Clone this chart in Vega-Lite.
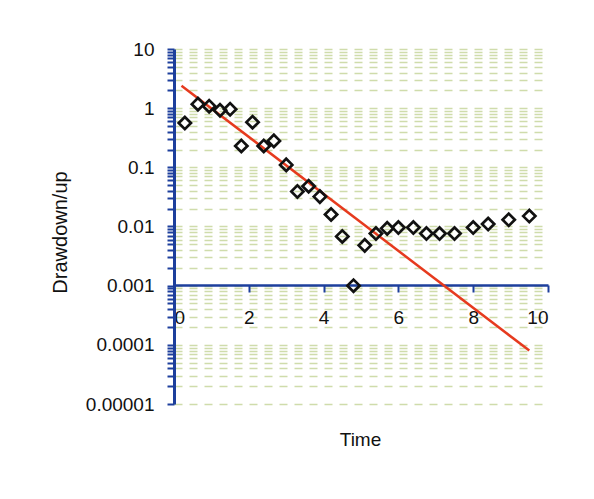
{
  "$schema": "https://vega.github.io/schema/vega-lite/v6.json",
  "width": 374,
  "height": 355,
  "autosize": "none",
  "padding": {"left": 174, "top": 49, "right": 46, "bottom": 95},
  "background": "white",
  "config": {
    "view": {"stroke": null},
    "font": "Liberation Sans"
  },
  "layer": [
    {
      "data": {"values": [
        {"time": 0.2, "value": 2.4},
        {"time": 9.5, "value": 0.00008}
      ]},
      "mark": {"type": "line", "color": "#e63a1e", "strokeWidth": 2.5},
      "encoding": {
        "x": {"field": "time", "type": "quantitative", "scale": {"domain": [0, 10], "nice": false},
          "axis": {
            "offset": -119, "values": [0, 2, 4, 6, 8, 10], "grid": false,
            "domainColor": "#1d3f9c", "domainWidth": 2.5, "tickColor": "#1d3f9c", "tickWidth": 2, "tickSize": 7,
            "labelFontSize": 19, "labelColor": "#111", "labelPadding": 16, "labelFont": "Liberation Sans",
            "title": "Time", "titleFontSize": 19, "titleFontWeight": "normal", "titleColor": "#111",
            "titleX": 186, "titleY": 154, "titleBaseline": "middle", "titleAlign": "center", "titleFont": "Liberation Sans"
          }},
        "y": {"field": "value", "type": "quantitative", "scale": {"type": "log", "domain": [0.00001, 10], "nice": false},
          "axis": {
            "values": [0.00001, 0.00002, 0.00003, 0.00004, 0.00005, 0.00006, 0.00007, 0.00008, 0.00009,
              0.0001, 0.0002, 0.0003, 0.0004, 0.0005, 0.0006, 0.0007, 0.0008, 0.0009,
              0.001, 0.002, 0.003, 0.004, 0.005, 0.006, 0.007, 0.008, 0.009,
              0.01, 0.02, 0.03, 0.04, 0.05, 0.06, 0.07, 0.08, 0.09,
              0.1, 0.2, 0.3, 0.4, 0.5, 0.6, 0.7, 0.8, 0.9,
              1, 2, 3, 4, 5, 6, 7, 8, 9, 10],
            "labelExpr": "abs(log(datum.value)/LN10 - round(log(datum.value)/LN10)) < 0.000001 ? format(datum.value, '.5~f') : ''",
            "grid": true, "gridColor": "#cfdcab", "gridDash": [8, 7], "gridWidth": 1.5,
            "domainColor": "#1d3f9c", "domainWidth": 3, "tickColor": "#1d3f9c", "tickWidth": 2, "tickSize": 7,
            "labelFontSize": 19, "labelColor": "#111", "labelPadding": 13, "labelFont": "Liberation Sans",
            "title": "Drawdown/up", "titleFontSize": 20, "titleFontWeight": "normal", "titleColor": "#111",
            "titleX": -114, "titleY": 183, "titleBaseline": "middle", "titleAlign": "center", "titleAngle": -90, "titleFont": "Liberation Sans"
          }}
      }
    },
    {
      "data": {"values": [
        {"time": 0.29, "value": 0.56},
        {"time": 0.64, "value": 1.17},
        {"time": 0.94, "value": 1.08},
        {"time": 1.23, "value": 0.92},
        {"time": 1.5, "value": 0.96},
        {"time": 1.8, "value": 0.23},
        {"time": 2.1, "value": 0.58},
        {"time": 2.4, "value": 0.23},
        {"time": 2.67, "value": 0.28},
        {"time": 3.0, "value": 0.11},
        {"time": 3.3, "value": 0.039},
        {"time": 3.6, "value": 0.048},
        {"time": 3.9, "value": 0.032},
        {"time": 4.2, "value": 0.016},
        {"time": 4.5, "value": 0.0068},
        {"time": 4.8, "value": 0.001},
        {"time": 5.1, "value": 0.0048},
        {"time": 5.4, "value": 0.0076},
        {"time": 5.7, "value": 0.0093},
        {"time": 6.0, "value": 0.0096},
        {"time": 6.4, "value": 0.0096},
        {"time": 6.75, "value": 0.0076},
        {"time": 7.1, "value": 0.0076},
        {"time": 7.5, "value": 0.0076},
        {"time": 8.0, "value": 0.0096},
        {"time": 8.4, "value": 0.011},
        {"time": 8.95, "value": 0.013},
        {"time": 9.5, "value": 0.015}
      ]},
      "mark": {"type": "point", "shape": "diamond", "filled": false, "stroke": "#111", "strokeWidth": 2.7, "size": 150, "opacity": 1},
      "encoding": {
        "x": {"field": "time", "type": "quantitative"},
        "y": {"field": "value", "type": "quantitative"}
      }
    }
  ]
}
